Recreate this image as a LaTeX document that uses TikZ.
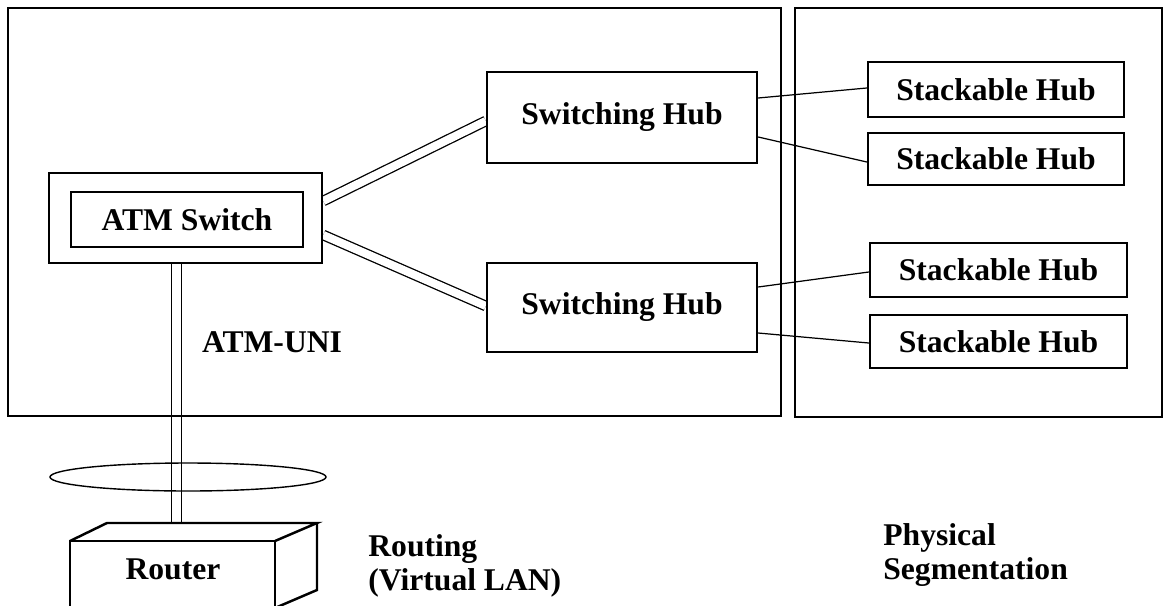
\documentclass[tikz,border=0pt]{standalone}
\usepackage{fontspec}
\setmainfont{Liberation Serif}
\usetikzlibrary{calc}
\pgfdeclarelayer{back}
\pgfsetlayers{back,main}
\tikzset{
  hub/.style={draw, fill=white, line width=1.4pt, inner sep=0pt, font=\bfseries\fontsize{18}{20}\selectfont},
  link/.style={line width=0.7pt},
  trunk/.style={line width=0.75pt, double, double distance=4.6pt},
  tag/.style={font=\bfseries\fontsize{18}{19}\selectfont, align=left, inner sep=0pt}
}
\begin{document}
\begin{tikzpicture}[x=0.02cm,y=-0.02cm]
\useasboundingbox (0,0) rectangle (1168,605);
% the two segments
\draw[line width=1.6pt] (8,8) rectangle (781,416);
\draw[line width=1.4pt] (795,8) rectangle (1162,417);
% switches
\node[hub, minimum width=5.46cm, minimum height=1.8cm] (atmo) at (185.5,218) {};
\node[hub, minimum width=4.64cm, minimum height=1.1cm] (atmi) at (187,219.5) {ATM Switch};
\node[hub, minimum width=5.4cm, minimum height=1.82cm] (swa) at (622,117.5) {Switching Hub};
\node[hub, minimum width=5.4cm, minimum height=1.78cm] (swb) at (622,307.5) {Switching Hub};
% stackable hubs
\node[hub, minimum width=5.12cm, minimum height=1.1cm] (sta) at (996,89.5) {Stackable Hub};
\node[hub, minimum width=5.12cm, minimum height=1.04cm] (stb) at (996,159) {Stackable Hub};
\node[hub, minimum width=5.14cm, minimum height=1.08cm] (stc) at (998.5,270) {Stackable Hub};
\node[hub, minimum width=5.14cm, minimum height=1.06cm] (std) at (998.5,341.5) {Stackable Hub};
\draw[link] ($(swa.east)+(0,-19.5)$) -- ($(sta.west)+(0,-1.5)$);
\draw[link] ($(swa.east)+(0,19.5)$) -- ($(stb.west)+(0,3)$);
\draw[link] ($(swb.east)+(0,-20.5)$) -- ($(stc.west)+(0,2)$);
\draw[link] ($(swb.east)+(0,25.5)$) -- ($(std.west)+(0,1.5)$);
% ATM trunks
\coordinate (rtop) at (176.5,523);
\begin{pgfonlayer}{back}
\draw[trunk] ($(atmo.east)+(0,-17)$) -- ($(swa.west)+(0,3.5)$);
\draw[trunk] ($(atmo.east)+(0,17)$) -- ($(swb.west)+(0,-1.5)$);
\draw[trunk] ($(atmo.south)+(-9,0)$) -- (rtop);
\end{pgfonlayer}
\node[tag] (uni) at (272,342) {ATM-UNI};
\draw[line width=0.8pt] (188,477) ellipse [x radius=2.76cm, y radius=0.28cm];
% router box
\draw[line width=1.4pt] (70,630) -- (70,541) -- (275,541) -- (275,630);
\draw[line width=1.4pt] (70,541) -- (107,523) -- (317,523) -- (275,541);
\draw[line width=1.4pt] (317,523) -- (317,590) -- (275,608);
\node[tag] (router) at (173,569) {Router};
\node[tag, anchor=west] (routing) at (368,566) {Routing\\(Virtual LAN)};
\node[tag, anchor=west] (phys) at (883,555) {Physical\\Segmentation};
\end{tikzpicture}
\end{document}
